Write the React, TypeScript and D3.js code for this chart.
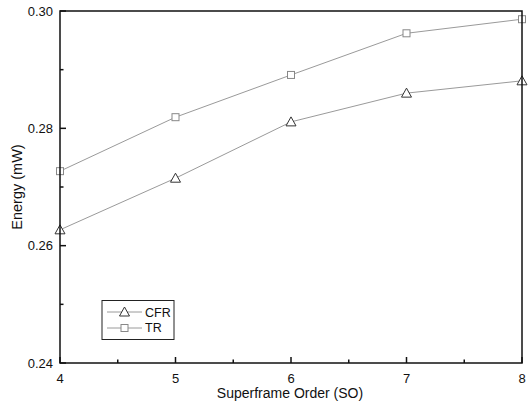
import React from "react";
import * as d3 from "d3";

const xValues = [4, 5, 6, 7, 8];
const cfrValues = [0.2627, 0.2715, 0.2811, 0.286, 0.2881];
const trValues = [0.2727, 0.2819, 0.2891, 0.2962, 0.2986];
const yTicks = [0.24, 0.26, 0.28, 0.3];
const yMinor = [0.25, 0.27, 0.29];
const xTicks = [4, 5, 6, 7, 8];
const xMinor = [4.5, 5.5, 6.5, 7.5];

export default function App() {
  const W = 528, H = 404;
  const left = 60, right = 522, top = 11, bottom = 363;
  const x = d3.scaleLinear().domain([4, 8]).range([left, right]);
  const y = d3.scaleLinear().domain([0.24, 0.3]).range([bottom, top]);
  const line = d3.line<number>().x((_, i) => x(xValues[i])).y((d) => y(d));
  const font = "'Liberation Sans', Arial, sans-serif";
  const lineColor = "#9a9a9a";
  const tri = (cx: number, cy: number) =>
    `M${cx},${cy - 5}L${cx + 5},${cy + 4}L${cx - 5},${cy + 4}Z`;
  return (
    <svg width={W} height={H} style={{ position: "absolute", left: 0, top: 0 }}>
      <rect width={W} height={H} fill="#fff" />
      <path d={line(trValues) || ""} fill="none" stroke={lineColor} strokeWidth={1} />
      <path d={line(cfrValues) || ""} fill="none" stroke={lineColor} strokeWidth={1} />
      {trValues.map((v, i) => (
        <rect key={"t" + i} x={x(xValues[i]) - 3.5} y={y(v) - 3.5} width={7} height={7} fill="#fff" stroke="#888" strokeWidth={1} />
      ))}
      {cfrValues.map((v, i) => (
        <path key={"c" + i} d={tri(x(xValues[i]), y(v))} fill="#fff" stroke="#333" strokeWidth={1} />
      ))}
      <rect x={left} y={top} width={right - left} height={bottom - top} fill="none" stroke="#111" strokeWidth={1.5} />
      {yTicks.map((t) => (
        <g key={"y" + t}>
          <line x1={left} x2={left + 6} y1={y(t)} y2={y(t)} stroke="#111" strokeWidth={1.5} />
          <text x={left - 7} y={y(t) + 4.5} textAnchor="end" fontFamily={font} fontSize={13} fill="#111">{t.toFixed(2)}</text>
        </g>
      ))}
      {yMinor.map((t) => (
        <line key={"ym" + t} x1={left} x2={left + 3.5} y1={y(t)} y2={y(t)} stroke="#111" strokeWidth={1.5} />
      ))}
      {xTicks.map((t) => (
        <g key={"x" + t}>
          <line x1={x(t)} x2={x(t)} y1={bottom} y2={bottom - 6} stroke="#111" strokeWidth={1.5} />
          <text x={x(t)} y={bottom + 19.5} textAnchor="middle" fontFamily={font} fontSize={13} fill="#111">{t}</text>
        </g>
      ))}
      {xMinor.map((t) => (
        <line key={"xm" + t} x1={x(t)} x2={x(t)} y1={bottom} y2={bottom - 3.5} stroke="#111" strokeWidth={1.5} />
      ))}
      <text x={290} y={398} textAnchor="middle" fontFamily={font} fontSize={14} fill="#111">Superframe Order (SO)</text>
      <text transform={`translate(22,${(top + bottom) / 2}) rotate(-90)`} textAnchor="middle" fontFamily={font} fontSize={14.5} fill="#111">Energy (mW)</text>
      <rect x={102} y={300.5} width={72} height={39} fill="#fff" stroke="#222" strokeWidth={1} />
      <line x1={107} x2={142} y1={312} y2={312} stroke={lineColor} />
      <path d={tri(124.5, 312)} fill="#fff" stroke="#333" />
      <text x={145} y={317} fontFamily={font} fontSize={12.5} fill="#111">CFR</text>
      <line x1={107} x2={142} y1={328} y2={328} stroke={lineColor} />
      <rect x={121} y={324.5} width={7} height={7} fill="#fff" stroke="#888" />
      <text x={145} y={332} fontFamily={font} fontSize={12.5} fill="#111">TR</text>
    </svg>
  );
}
